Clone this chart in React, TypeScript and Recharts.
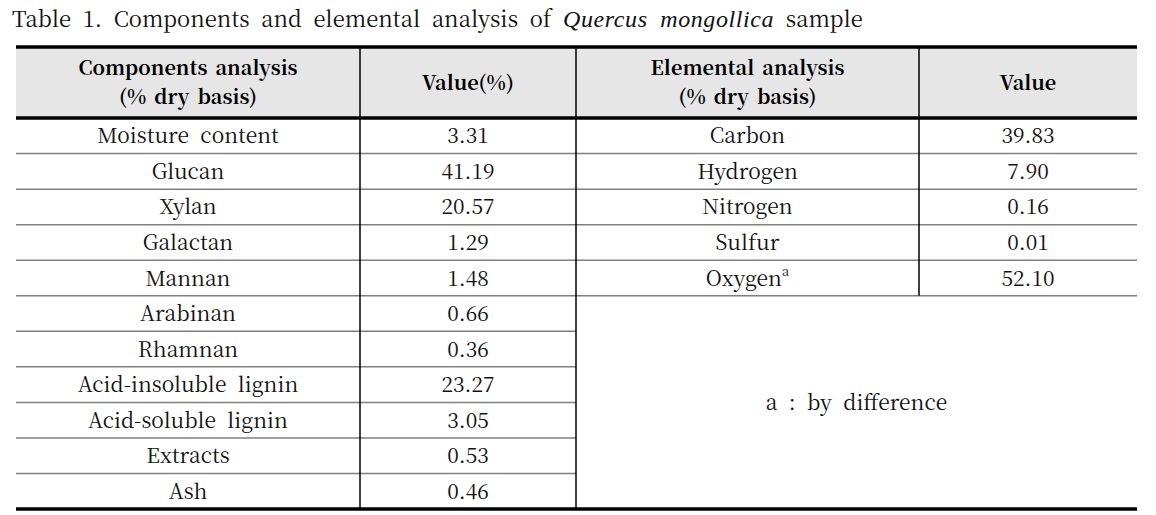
import React from 'react';
import { ScatterChart, Scatter, XAxis, YAxis, ReferenceLine, ReferenceArea } from 'recharts';

// table content
const titleParts = ['Table 1. Components and elemental analysis of ', 'Quercus mongollica', ' sample'];
const headers = ['Components analysis\n(% dry basis)', 'Value(%)', 'Elemental analysis\n(% dry basis)', 'Value'];
const componentNames = [
  'Moisture content', 'Glucan', 'Xylan', 'Galactan', 'Mannan', 'Arabinan',
  'Rhamnan', 'Acid-insoluble lignin', 'Acid-soluble lignin', 'Extracts', 'Ash',
];
const componentValues = [3.31, 41.19, 20.57, 1.29, 1.48, 0.66, 0.36, 23.27, 3.05, 0.53, 0.46];
const elementNames = ['Carbon', 'Hydrogen', 'Nitrogen', 'Sulfur', 'Oxygen'];
const elementNotes = ['', '', '', '', 'a'];
const elementValues = [39.83, 7.9, 0.16, 0.01, 52.1];
const footnote = 'a : by difference';

// layout (axis units = px inside the plot area)
const W = 1121;
const COL_EDGES = [0, 344, 560, 903, W];
const HEADER_ROWS = 2;
const ROWS = componentNames.length;
const FONT = "'Noto Serif CJK KR', 'Liberation Serif', serif";
const ITALIC_FONT = "'Liberation Serif', serif";

const colCenter = (c: number) => (COL_EDGES[c] + COL_EDGES[c + 1]) / 2;

type Cell = { x: number; y: number; text: string; note?: string; head?: boolean };

const headerCells: Cell[] = headers.map((h, i) => ({ x: colCenter(i), y: -HEADER_ROWS / 2, text: h, head: true }));
const compNameCells: Cell[] = componentNames.map((n, i) => ({ x: colCenter(0), y: i + 0.5, text: n }));
const compValueCells: Cell[] = componentValues.map((v, i) => ({ x: colCenter(1), y: i + 0.5, text: v.toFixed(2) }));
const elemNameCells: Cell[] = elementNames.map((n, i) => ({ x: colCenter(2), y: i + 0.5, text: n, note: elementNotes[i] }));
const elemValueCells: Cell[] = elementValues.map((v, i) => ({ x: colCenter(3), y: i + 0.5, text: v.toFixed(2) }));
const noteCells: Cell[] = [{ x: (COL_EDGES[2] + COL_EDGES[4]) / 2, y: (elementNames.length + ROWS) / 2, text: footnote }];

const CellText = (props: any) => {
  const { cx, cy, payload } = props;
  const p = payload as Cell;
  if (p.head) {
    const lines = p.text.split('\n');
    const lh = 29;
    return (
      <text x={cx} textAnchor="middle" fontFamily={FONT} fontSize={20} fontWeight={700} fill="#000" wordSpacing={3}>
        {lines.map((l, k) => (
          <tspan key={k} x={cx} y={cy + (k - (lines.length - 1) / 2) * lh} dy="0.36em">{l}</tspan>
        ))}
      </text>
    );
  }
  return (
    <text x={cx} y={cy} dy="0.36em" textAnchor="middle" fontFamily={FONT} fontSize={21} fill="#111" wordSpacing={6}>
      {p.text}
      {p.note ? <tspan fontSize={13} dy="-0.7em">{p.note}</tspan> : null}
    </text>
  );
};

const thinRows: number[] = Array.from({ length: ROWS - 1 }, (_, i) => i + 1);

export default function App() {
  return (
    <div style={{ position: 'absolute', left: 0, top: 0, width: 1156, height: 515, background: '#fff' }}>
      <svg width={1156} height={40} style={{ position: 'absolute', left: 0, top: 0 }}>
        <text x={12} y={27} fontFamily={FONT} fontSize={22} fill="#111" wordSpacing={6}>
          <tspan>{titleParts[0]}</tspan>
          <tspan fontFamily={ITALIC_FONT} fontStyle="italic" fontWeight={400} fontSize={24} letterSpacing={0.6}>{titleParts[1]}</tspan>
          <tspan>{titleParts[2]}</tspan>
        </text>
      </svg>
      <div style={{ position: 'absolute', left: 0, top: 0 }}>
        <ScatterChart width={1156} height={515} margin={{ top: 47, right: 19, bottom: 6, left: 16 }}>
          <XAxis type="number" dataKey="x" domain={[0, W]} hide />
          <YAxis type="number" dataKey="y" domain={[-HEADER_ROWS, ROWS]} reversed hide />
          <ReferenceArea x1={0} x2={W} y1={-HEADER_ROWS} y2={0} fill="#e6e6e6" fillOpacity={1} stroke="none" />
          {thinRows.map((r) => (
            <ReferenceLine key={`l${r}`} segment={[{ x: 0, y: r }, { x: COL_EDGES[2], y: r }]} stroke="#808080" strokeWidth={1.5} />
          ))}
          {thinRows.filter((r) => r <= elementNames.length).map((r) => (
            <ReferenceLine key={`r${r}`} segment={[{ x: COL_EDGES[2], y: r }, { x: W, y: r }]} stroke="#808080" strokeWidth={1.5} />
          ))}
          <ReferenceLine segment={[{ x: COL_EDGES[1], y: -HEADER_ROWS }, { x: COL_EDGES[1], y: ROWS }]} stroke="#000" strokeWidth={1.5} />
          <ReferenceLine segment={[{ x: COL_EDGES[2], y: -HEADER_ROWS }, { x: COL_EDGES[2], y: ROWS }]} stroke="#000" strokeWidth={1.5} />
          <ReferenceLine segment={[{ x: COL_EDGES[3], y: -HEADER_ROWS }, { x: COL_EDGES[3], y: elementNames.length }]} stroke="#000" strokeWidth={1.5} />
          <ReferenceLine segment={[{ x: 0, y: -HEADER_ROWS }, { x: W, y: -HEADER_ROWS }]} stroke="#000" strokeWidth={3.5} />
          <ReferenceLine segment={[{ x: 0, y: 0 }, { x: W, y: 0 }]} stroke="#000" strokeWidth={3.5} />
          <ReferenceLine segment={[{ x: 0, y: ROWS }, { x: W, y: ROWS }]} stroke="#000" strokeWidth={3.5} />
          <Scatter data={headerCells} shape={CellText} isAnimationActive={false} />
          <Scatter data={compNameCells} shape={CellText} isAnimationActive={false} />
          <Scatter data={compValueCells} shape={CellText} isAnimationActive={false} />
          <Scatter data={elemNameCells} shape={CellText} isAnimationActive={false} />
          <Scatter data={elemValueCells} shape={CellText} isAnimationActive={false} />
          <Scatter data={noteCells} shape={CellText} isAnimationActive={false} />
        </ScatterChart>
      </div>
    </div>
  );
}
